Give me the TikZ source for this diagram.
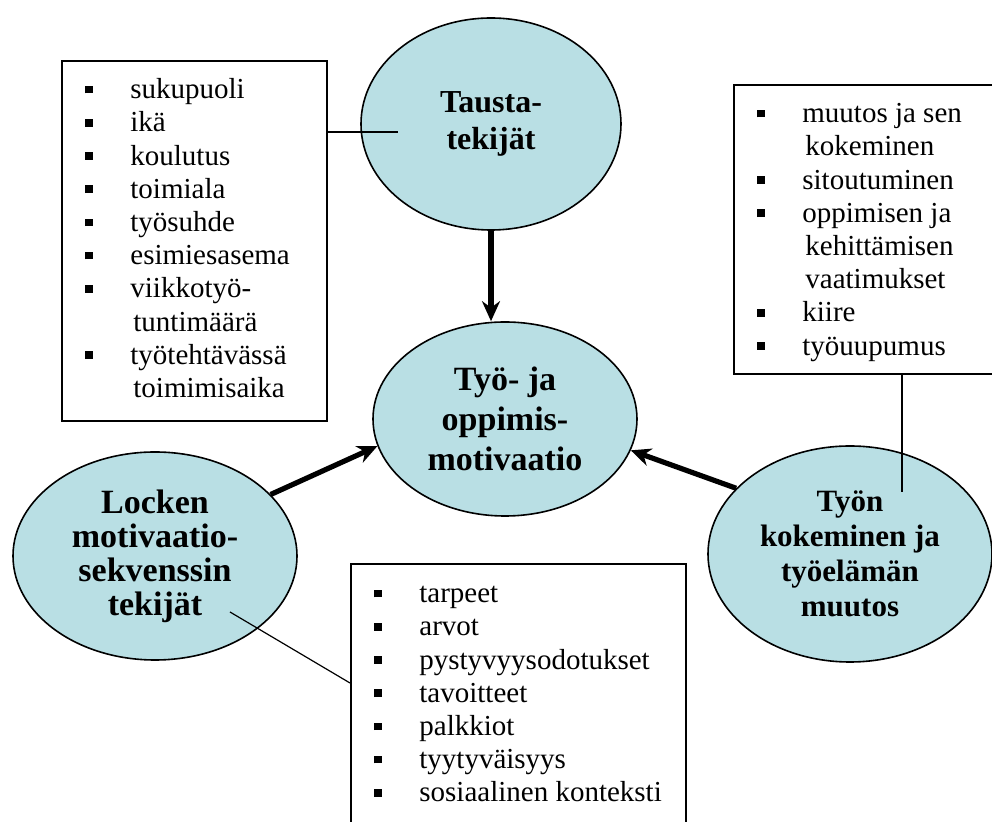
\documentclass[tikz,border=0pt]{standalone}
\usepackage{fontspec}
\setmainfont{Liberation Serif}
\usetikzlibrary{arrows.meta, shapes.geometric, positioning, calc}
\definecolor{bubbleblue}{HTML}{B9DFE4}
\newcommand{\blt}[1]{\makebox[34.5pt][l]{\hspace*{12pt}\rule[2.6pt]{3.8pt}{3.8pt}}#1}
\newcommand{\cont}[1]{\hspace*{36pt}#1}

\begin{document}
\begin{tikzpicture}[x=0.5pt, y=-0.5pt,
  bubble/.style={ellipse, draw=black, line width=0.8pt, fill=bubbleblue, align=center, inner sep=0pt},
  listbox/.style={draw=black, line width=0.8pt, anchor=north west, inner sep=0pt},
  listtext/.style={anchor=north west, inner sep=0pt, align=left, font=\fontsize{14.5}{16.6}\selectfont},
  bigarrow/.style={-{Stealth[length=10pt, width=9pt]}, line width=2.6pt},
  thinline/.style={line width=0.6pt}]

  \useasboundingbox (0,0) rectangle (992,822);

  % Ellipsit
  \node[bubble, minimum width=130pt, minimum height=106pt, font=\bfseries\fontsize{16}{18.5}\selectfont] (taus) at (491,124) {Tausta-\\tekijät};
  \node[bubble, minimum width=132pt, minimum height=97pt, font=\bfseries\fontsize{17}{20}\selectfont] (core) at (505,419) {Työ- ja\\oppimis-\\motivaatio};
  \node[bubble, minimum width=142pt, minimum height=104pt, font=\bfseries\fontsize{17}{17}\selectfont] (locke) at (155,556) {Locken\\motivaatio-\\sekvenssin\\tekijät};
  \node[bubble, minimum width=142pt, minimum height=108pt, font=\bfseries\fontsize{15.5}{17.5}\selectfont] (work) at (850,554) {Työn\\kokeminen ja\\työelämän\\muutos};

  % Laatikot
  \node[listbox, minimum width=132.5pt, minimum height=180pt] (boxA) at (61,60) {};
  \node[listtext, yshift=-7.5pt] (listA) at (boxA.north west) {\strut\blt{sukupuoli}\\ \blt{ikä}\\ \blt{koulutus}\\ \blt{toimiala}\\ \blt{työsuhde}\\ \blt{esimiesasema}\\ \blt{viikkotyö-}\\ \cont{tuntimäärä}\\ \blt{työtehtävässä}\\ \cont{toimimisaika}};

  \node[listbox, minimum width=131pt, minimum height=144.5pt] (boxB) at (733,84) {};
  \node[listtext, yshift=-7.5pt] (listB) at (boxB.north west) {\strut\blt{muutos ja sen}\\ \cont{kokeminen}\\ \blt{sitoutuminen}\\ \blt{oppimisen ja}\\ \cont{kehittämisen}\\ \cont{vaatimukset}\\ \blt{kiire}\\ \blt{työuupumus}};

  \node[listbox, minimum width=167.5pt, minimum height=133.5pt] (boxC) at (350,563) {};
  \node[listtext, yshift=-8pt] (listC) at (boxC.north west) {\strut\blt{tarpeet}\\ \blt{arvot}\\ \blt{pystyvyysodotukset}\\ \blt{tavoitteet}\\ \blt{palkkiot}\\ \blt{tyytyväisyys}\\ \blt{sosiaalinen konteksti}};

  % Ohuet viivat
  \coordinate (tausin) at (398,132);
  \coordinate (workin) at (902,492);
  \coordinate (lockin) at (230,612);
  \draw[thinline] (boxA.east |- tausin) -- (tausin);
  \draw[thinline] (boxB.south -| workin) -- (workin);
  \draw[thinline] (lockin) -- ([yshift=-60pt]boxC.north west);

  % Nuolet
  \draw[bigarrow] (taus.south) -- (taus.south |- core.north);
  \draw[bigarrow] (locke.28) -- (core.192);
  \draw[bigarrow] (work.150) -- (core.346);
\end{tikzpicture}
\end{document}
